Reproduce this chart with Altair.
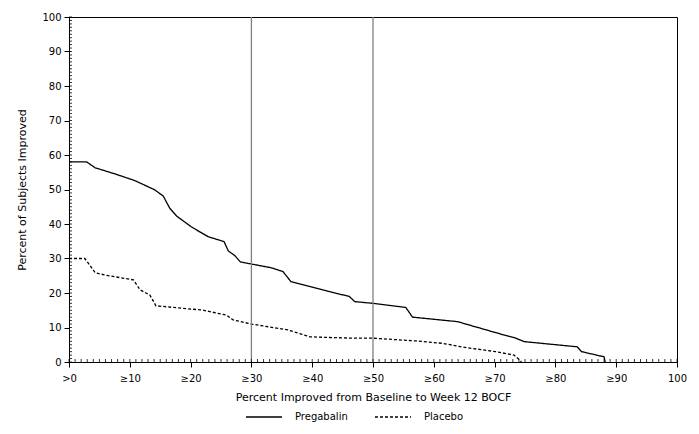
import altair as alt
import pandas as pd

# Pregabalin curve
preg_x = [0, 2.9, 4.3, 7.6, 10.8, 14.1, 15.5, 16.6, 17.7, 20.1, 22.9, 25.5, 26.2, 27.3, 28.2, 30.0,
          33.3, 35.2, 36.5, 39.3, 42.6, 46.1, 47.0, 50.0, 55.4, 56.5, 63.9, 70.2, 73.5, 74.9,
          83.6, 84.3, 88.0, 88.2]
preg_y = [58.0, 58.0, 56.3, 54.5, 52.6, 49.9, 48.1, 44.5, 42.3, 39.2, 36.3, 34.9, 32.2, 30.8, 29.0, 28.4,
          27.3, 26.2, 23.3, 22.0, 20.5, 19.0, 17.5, 17.0, 15.8, 13.0, 11.7, 8.5, 6.9, 5.9,
          4.4, 3.0, 1.5, 0.0]
# Placebo curve
plac_x = [0, 2.6, 3.2, 4.3, 5.9, 10.6, 11.7, 13.3, 14.3, 19.6, 21.8, 25.9, 27.0, 30.0, 36.0, 39.6,
          42.9, 47.0, 50.0, 57.1, 61.5, 64.8, 70.2, 73.2, 74.2, 74.4]
plac_y = [30.0, 30.0, 28.6, 25.9, 25.2, 23.8, 20.9, 19.4, 16.3, 15.4, 15.1, 13.6, 12.2, 11.0, 9.3, 7.3,
          7.1, 6.9, 6.9, 6.1, 5.4, 4.3, 3.0, 2.0, 0.5, 0.0]

series_names = ["Pregabalin", "Placebo"]
ref_x = [30, 50]
x_ticks = list(range(0, 101, 10))
y_ticks = list(range(0, 101, 10))
minor_vals = list(range(0, 101, 1))

rows = []
for i, (xv, yv) in enumerate(zip(preg_x, preg_y)):
    rows.append({"x": xv, "y": yv, "series": series_names[0], "order": i})
for i, (xv, yv) in enumerate(zip(plac_x, plac_y)):
    rows.append({"x": xv, "y": yv, "series": series_names[1], "order": i})
df = pd.DataFrame(rows)

W, H = 608, 345
FONT = "DejaVu Sans"

xscale = alt.Scale(domain=[0, 100], nice=False, zero=False)
yscale = alt.Scale(domain=[0, 100], nice=False, zero=False)

xaxis = alt.Axis(values=x_ticks, title="Percent Improved from Baseline to Week 12 BOCF",
                 labelExpr="datum.value == 0 ? '>0' : (datum.value == 100 ? '100' : '≥' + datum.value)",
                 grid=False, tickSize=5, labelPadding=6, titlePadding=8,
                 labelOverlap=False, labelFlush=False,
                 domainColor="black", tickColor="black")
yaxis = alt.Axis(values=y_ticks, title="Percent of Subjects Improved", grid=False,
                 tickSize=5, labelPadding=3, titlePadding=14,
                 labelOverlap=False, labelFlush=False,
                 domainColor="black", tickColor="black")

leg = alt.Legend(title=None, orient="none", direction="horizontal",
                 legendX=176, legendY=381, symbolType="stroke",
                 symbolSize=1300, symbolStrokeWidth=1.3,
                 labelFont=FONT, labelFontSize=10, labelOffset=12,
                 columnPadding=24)

lines = alt.Chart(df).mark_line(strokeWidth=1.3).encode(
    x=alt.X("x:Q", scale=xscale, axis=xaxis),
    y=alt.Y("y:Q", scale=yscale, axis=yaxis),
    color=alt.Color("series:N", scale=alt.Scale(domain=series_names, range=["black", "black"]),
                    legend=leg),
    strokeDash=alt.StrokeDash("series:N",
                              scale=alt.Scale(domain=series_names, range=[[1, 0], [3, 2]]),
                              legend=leg),
    order="order:Q",
)

refs = alt.Chart(pd.DataFrame({"x": ref_x})).mark_rule(color="#808080", strokeWidth=1.3).encode(
    x=alt.X("x:Q", scale=xscale, axis=xaxis),
)

minor_df = pd.DataFrame({"v": minor_vals})
xminor = alt.Chart(minor_df).mark_rule(color="black", strokeWidth=0.8).encode(
    x=alt.X("v:Q", scale=xscale, axis=xaxis),
    y=alt.value(H),
    y2=alt.value(H - 3),
)
yminor = alt.Chart(minor_df).mark_rule(color="black", strokeWidth=0.8).encode(
    y=alt.Y("v:Q", scale=yscale, axis=yaxis),
    x=alt.value(0),
    x2=alt.value(3),
)

chart = alt.layer(lines, refs, xminor, yminor).properties(
    width=W, height=H,
    autosize=alt.AutoSizeParams(type="none"),
    padding={"left": 61, "top": 9, "right": 14, "bottom": 64},
).configure_view(stroke="black", strokeWidth=1).configure_axis(
    labelFont=FONT, titleFont=FONT, labelFontSize=10, titleFontSize=11,
    titleFontWeight="normal", labelColor="black", titleColor="black",
).configure_legend(labelColor="black")

chart.save("out.html", embed_options={"renderer": "svg", "actions": False})
